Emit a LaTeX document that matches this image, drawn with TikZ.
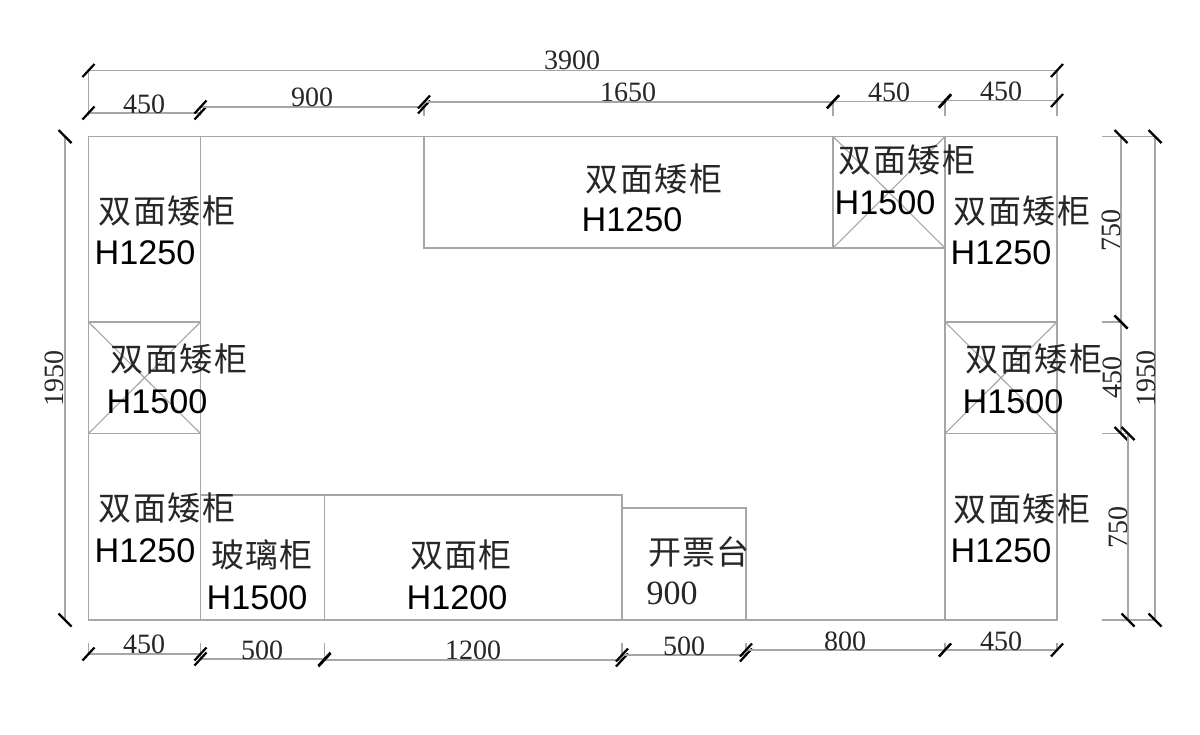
\documentclass[tikz,border=0pt]{standalone}
\usepackage{fontspec}
\setmainfont{Liberation Serif}
\newfontfamily\hfont{Liberation Sans}
\newfontfamily\cjkf{Noto Sans CJK SC}
\definecolor{linegray}{HTML}{A6A6A6}
\tikzset{
  wall/.style={draw=linegray,line width=1.1pt},
  dimline/.style={draw=linegray,line width=1.1pt},
  tickmark/.style={draw=black,line width=2.2pt},
  dimtext/.style={inner sep=0pt,text=black!85,font=\fontsize{28}{28}\selectfont},
  cjktext/.style={inner sep=0pt,text=black!85,font=\cjkf\fontsize{33}{33}\selectfont},
  htext/.style={inner sep=0pt,text=black,font=\hfont\fontsize{34.2}{34}\selectfont},
  numtext/.style={inner sep=0pt,text=black!85,font=\fontsize{34}{34}\selectfont}
}
\newcommand\ftick[2]{\draw[tickmark] (#1,#2)+(-6,6.5)--+(6,-6.5);}
\newcommand\btick[2]{\draw[tickmark] (#1,#2)+(-6.5,-6.5)--+(6.5,6.5);}
\newcommand\hdim[3]{\draw[dimline] (#1,#3)--(#2,#3);\ftick{#1}{#3}\ftick{#2}{#3}}
\newcommand\vdim[3]{\draw[dimline] (#3,#1)--(#3,#2);\btick{#3}{#1}\btick{#3}{#2}}
\newcommand\sh{\hspace{1.5pt}}
\begin{document}
\begin{tikzpicture}[x=1pt,y=-1pt]
\useasboundingbox[fill=white] (0,0) rectangle (1200,734);
% walls
\draw[wall] (88.5,136.5) rectangle (1057,620);
\draw[wall] (200.5,136.5)--(200.5,620);
\draw[wall] (945,136.5)--(945,620);
\draw[wall] (424,136.5)--(424,248)--(945,248);
\draw[wall] (833,136.5)--(833,248);
\draw[wall] (88.5,322)--(200.5,322) (88.5,433.5)--(200.5,433.5);
\draw[wall] (945,322)--(1057,322) (945,433.5)--(1057,433.5);
\draw[wall] (200.5,495)--(622,495)--(622,620);
\draw[wall] (324.5,495)--(324.5,620);
\draw[wall] (622,508)--(746,508)--(746,620);
% crosses
\draw[wall] (833,136.5)--(945,248) (945,136.5)--(833,248);
\draw[wall] (88.5,322)--(200.5,433.5) (200.5,322)--(88.5,433.5);
\draw[wall] (945,322)--(1057,433.5) (1057,322)--(945,433.5);
% extension lines, top
\draw[dimline] (88.5,70.5)--(88.5,116) (1057,70.5)--(1057,116);
\foreach \x/\y in {200.5/107,424/102,833/102,945/101}{\draw[dimline] (\x,\y)--(\x,116);}
% extension lines, bottom
\foreach \x/\y in {88.5/654,200.5/659,324.5/660,622/660,746/655,945/650,1057/650}{\draw[dimline] (\x,643)--(\x,\y);}
% extension lines, right
\draw[dimline] (1102,136.5)--(1155,136.5) (1102,322)--(1121,322) (1102,433.5)--(1128,433.5) (1102,620)--(1155,620);
% dimensions
\hdim{88.5}{1057}{70.5}
\hdim{88.5}{200.5}{113}
\hdim{200.5}{424}{107}
\hdim{424}{833}{102}
\hdim{833}{945}{101.5}
\hdim{945}{1057}{100.5}
\hdim{88.5}{200.5}{654}
\hdim{200.5}{324.5}{659}
\hdim{324.5}{622}{660}
\hdim{622}{746}{655}
\hdim{746}{945}{650}
\hdim{945}{1057}{650}
\vdim{136.5}{620}{65}
\vdim{136.5}{322}{1121}
\vdim{322}{433.5}{1121}
\vdim{433.5}{620}{1128}
\vdim{136.5}{620}{1155}
% dimension texts
\node[dimtext] (d1) at (572,60) {3900};
\node[dimtext] (d2) at (144,104) {450};
\node[dimtext] (d3) at (312,97) {900};
\node[dimtext] (d4) at (628,92) {1650};
\node[dimtext] (d5) at (889,92) {450};
\node[dimtext] (d6) at (1001,91) {450};
\node[dimtext] (d7) at (144,644) {450};
\node[dimtext] (d8) at (262,650) {500};
\node[dimtext] (d9) at (473,650) {1200};
\node[dimtext] (d10) at (684,646) {500};
\node[dimtext] (d11) at (845,641) {800};
\node[dimtext] (d12) at (1001,641) {450};
\node[dimtext,rotate=90] (d13) at (54,378) {1950};
\node[dimtext,rotate=90] (d14) at (1111,230) {750};
\node[dimtext,rotate=90] (d15) at (1112,377) {450};
\node[dimtext,rotate=90] (d16) at (1146,378) {1950};
\node[dimtext,rotate=90] (d17) at (1118,527) {750};
% labels
\node[cjktext] (c1) at (167,211) {双\sh 面\sh 矮\sh 柜};
\node[htext] (h1) at (145,253) {H1250};
\node[cjktext] (c2) at (654,179) {双\sh 面\sh 矮\sh 柜};
\node[htext] (h2) at (632,220) {H1250};
\node[cjktext] (c3) at (907,160) {双\sh 面\sh 矮\sh 柜};
\node[htext] (h3) at (885,203) {H1500};
\node[cjktext] (c4) at (1022,211) {双\sh 面\sh 矮\sh 柜};
\node[htext] (h4) at (1001,253) {H1250};
\node[cjktext] (c5) at (179,359) {双\sh 面\sh 矮\sh 柜};
\node[htext] (h5) at (157,402) {H1500};
\node[cjktext] (c6) at (1034,359) {双\sh 面\sh 矮\sh 柜};
\node[htext] (h6) at (1013,402) {H1500};
\node[cjktext] (c7) at (167,508) {双\sh 面\sh 矮\sh 柜};
\node[htext] (h7) at (145,551) {H1250};
\node[cjktext] (c8) at (1022,509) {双\sh 面\sh 矮\sh 柜};
\node[htext] (h8) at (1001,551) {H1250};
\node[cjktext] (c9) at (262,555) {玻\sh 璃\sh 柜};
\node[htext] (h9) at (257,598) {H1500};
\node[cjktext] (c10) at (461,555) {双\sh 面\sh 柜};
\node[htext] (h10) at (457,598) {H1200};
\node[cjktext] (c11) at (699,552) {开\sh 票\sh 台};
\node[numtext] (n1) at (672,593) {900};
\end{tikzpicture}
\end{document}
